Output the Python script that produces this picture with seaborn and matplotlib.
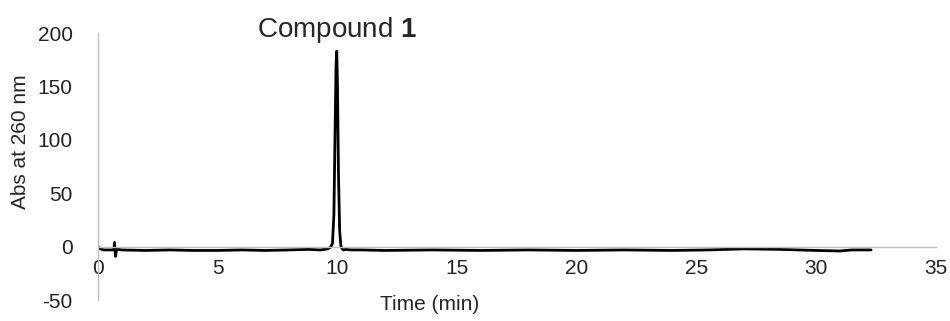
import matplotlib
matplotlib.use("Agg")
import matplotlib.pyplot as plt
import seaborn as sns
import pandas as pd

# Chromatogram trace
time_min = [0.0, 0.1, 0.25, 0.5, 0.66, 0.7, 0.72, 0.74, 0.78, 0.85, 1.0, 2.0,
            3.0, 4.0, 5.0, 6.0, 7.0, 8.0, 8.8, 9.3, 9.6, 9.72, 9.8, 9.86,
            9.91, 9.95, 9.98, 10.01, 10.05, 10.1, 10.15, 10.2, 10.26, 10.35,
            10.6, 11.0, 12.0, 14.0, 16.0, 18.0, 20.0, 22.0, 24.0, 25.5, 27.0,
            28.5, 30.0, 31.0, 31.5, 32.3]
absorbance = [0.0, -2.0, -3.0, -3.0, -3.0, 4.0, -3.0, -9.0, -3.0, -2.5, -3.0,
              -3.5, -3.0, -3.5, -3.5, -3.0, -3.5, -3.0, -2.5, -3.0, -2.0,
              -0.5, 3.0, 30.0, 110.0, 170.0, 183.0, 150.0, 70.0, 15.0, 1.0,
              -2.0, -3.0, -2.5, -3.0, -3.0, -3.5, -3.0, -3.5, -3.0, -3.5,
              -3.0, -3.5, -3.0, -2.0, -2.5, -3.5, -4.0, -3.0, -3.0]

df = pd.DataFrame({"time": time_min, "abs": absorbance})

sns.set_style("white")
plt.rcParams["font.family"] = ["Liberation Sans", "DejaVu Sans"]
plt.rcParams["axes.unicode_minus"] = False
plt.rcParams["mathtext.fontset"] = "custom"
plt.rcParams["mathtext.bf"] = "Liberation Sans:bold"
plt.rcParams["mathtext.rm"] = "Liberation Sans"

fig = plt.figure(figsize=(9.5, 3.21), dpi=100)
ax = fig.add_axes([0.103, 0.065, 0.882, 0.832])

sns.lineplot(data=df, x="time", y="abs", color="black", linewidth=2.0, ax=ax)

ax.set_xlim(0, 35)
ax.set_ylim(-50, 200)
ax.set_xticks(range(0, 36, 5))
ax.set_yticks(range(-50, 201, 50))
ax.tick_params(axis="both", length=0, labelsize=15, colors="#222222")
ax.tick_params(axis="x", pad=9)
ax.tick_params(axis="y", pad=18)

for side in ["top", "right"]:
    ax.spines[side].set_visible(False)
ax.spines["bottom"].set_position(("data", 0))
ax.spines["bottom"].set_color("#bfbfbf")
ax.spines["left"].set_color("#bfbfbf")
ax.spines["bottom"].set_linewidth(1.0)
ax.spines["left"].set_linewidth(1.0)

ax.set_xlabel("")
ax.set_ylabel("")
fig.text(0.022, 0.56, "Abs at 260 nm", rotation=90, ha="center", va="center",
         fontsize=15)
fig.text(0.452, 0.05, "Time (min)", ha="center", va="center", fontsize=15)

ax.text(10.0, 203, r"Compound $\mathbf{1}$", ha="center", va="center",
        fontsize=20, clip_on=False)

fig.savefig("out.png", dpi=100)
